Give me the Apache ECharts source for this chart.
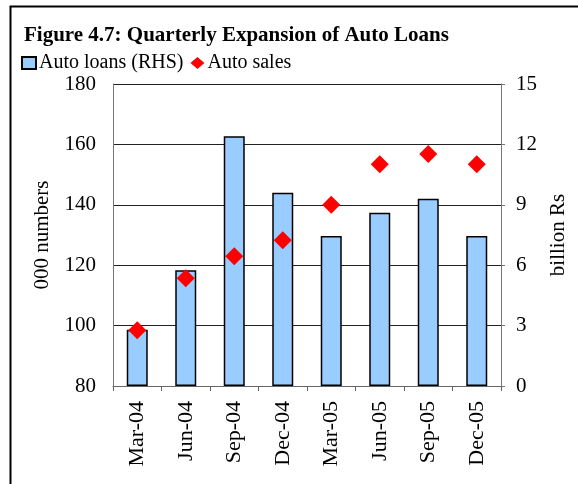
<!DOCTYPE html>
<html>
<head>
<meta charset="utf-8">
<script src="https://cdn.jsdelivr.net/npm/echarts@6/dist/echarts.min.js"></script>
<style>
  html, body { margin: 0; padding: 0; background: #fff; }
  #chart { width: 578px; height: 484px; }
</style>
</head>
<body>
<div id="chart"></div>
<script>
var quarters = ['Mar-04', 'Jun-04', 'Sep-04', 'Dec-04', 'Mar-05', 'Jun-05', 'Sep-05', 'Dec-05'];
var autoLoans = [2.8, 5.75, 12.4, 9.6, 7.45, 8.6, 9.3, 7.45];   // billion Rs, RHS
var autoSales = [98.5, 115.7, 123, 128.3, 140, 153.4, 156.8, 153.4]; // 000 numbers, LHS

var serif = '"Liberation Serif", "DejaVu Serif", serif';
var chart = echarts.init(document.getElementById('chart'));

var option = {
    backgroundColor: '#fff',
    animation: false,
    title: {
        text: 'Figure 4.7: Quarterly Expansion of Auto Loans',
        left: 19,
        top: 20,
        textStyle: {
            fontFamily: serif,
            fontWeight: 'bold',
            fontSize: 21,
            color: '#000'
        }
    },
    legend: {
        left: 16,
        top: 48,
        itemWidth: 14,
        itemHeight: 12,
        itemGap: 7,
        textStyle: { fontFamily: serif, fontSize: 20, color: '#000', padding: [0, 0, 0, -2] },
        data: [
            { name: 'Auto loans (RHS)', icon: 'rect' },
            { name: 'Auto sales', icon: 'diamond' }
        ]
    },
    grid: { left: 113, right: 77, top: 84, bottom: 98 },
    xAxis: {
        type: 'category',
        data: quarters,
        axisLine: { lineStyle: { color: '#666', width: 1 } },
        axisTick: { show: true, length: 5, lineStyle: { color: '#666' } },
        axisLabel: {
            rotate: 90,
            interval: 0,
            margin: 15,
            fontFamily: serif,
            fontSize: 22,
            color: '#000'
        }
    },
    yAxis: [{
        type: 'value',
        min: 80,
        max: 180,
        interval: 20,
        name: '000 numbers',
        nameLocation: 'middle',
        nameGap: 60,
        nameTextStyle: { fontFamily: serif, fontSize: 21, color: '#000' },
        axisLine: { show: true, lineStyle: { color: '#777' } },
        axisTick: { show: false },
        axisLabel: { fontFamily: serif, fontSize: 21, color: '#000', margin: 17 },
        splitLine: { lineStyle: { color: '#222', width: 1 } }
    }, {
        type: 'value',
        min: 0,
        max: 15,
        interval: 3,
        position: 'right',
        name: 'billion Rs',
        nameLocation: 'middle',
        nameGap: 44,
        nameTextStyle: { fontFamily: serif, fontSize: 21, color: '#000' },
        axisLine: { show: true, lineStyle: { color: '#777' } },
        axisTick: { show: true, length: 4, lineStyle: { color: '#777' } },
        axisLabel: { fontFamily: serif, fontSize: 21, color: '#000', margin: 15 },
        splitLine: { show: false }
    }],
    series: [{
        name: 'Auto loans (RHS)',
        type: 'bar',
        yAxisIndex: 1,
        barWidth: 21,
        data: autoLoans,
        itemStyle: { color: '#99ccff', borderColor: '#000', borderWidth: 1.5 }
    }, {
        name: 'Auto sales',
        type: 'scatter',
        yAxisIndex: 0,
        symbol: 'diamond',
        symbolSize: 18,
        data: autoSales,
        itemStyle: { color: '#ff0000', opacity: 1 },
        z: 5
    }],
    graphic: [{
        type: 'rect',
        left: 8,
        top: 4,
        shape: { width: 600, height: 520 },
        style: { fill: null, stroke: '#000', lineWidth: 2 },
        silent: true
    }]
};

chart.setOption(option);
</script>
</body>
</html>
